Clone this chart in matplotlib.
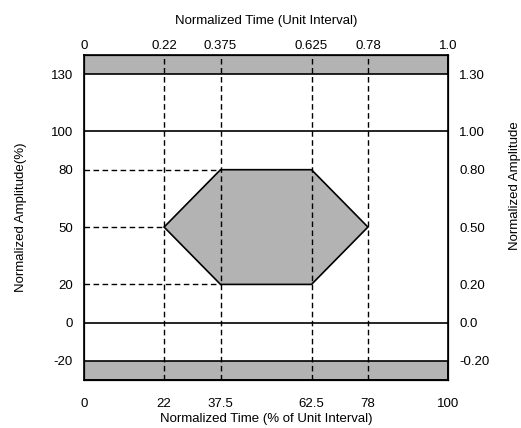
import matplotlib
matplotlib.use("Agg")
import matplotlib.pyplot as plt
from matplotlib.patches import Polygon, Rectangle

plt.rcParams['font.family'] = ['Liberation Sans', 'DejaVu Sans']

# Data
x_ticks_pct = [0, 22, 37.5, 62.5, 78, 100]
x_ticklabels_pct = ['0', '22', '37.5', '62.5', '78', '100']
x_ticklabels_ui = ['0', '0.22', '0.375', '0.625', '0.78', '1.0']
y_ticks = [-20, 0, 20, 50, 80, 100, 130]
y_ticklabels_pct = ['-20', '0', '20', '50', '80', '100', '130']
y_ticklabels_norm = ['-0.20', '0.0', '0.20', '0.50', '0.80', '1.00', '1.30']
eye_x = [22, 37.5, 62.5, 78, 62.5, 37.5]
eye_y = [50, 80, 80, 50, 20, 20]
band_top = (130, 140)
band_bottom = (-30, -20)
solid_levels = [0, 100]
vdash_x = [22, 37.5, 62.5, 78]
hdash = [(80, 37.5), (50, 22), (20, 37.5)]  # (level, x end)

gray = '#b3b3b3'
fig = plt.figure(figsize=(5.21, 4.28), dpi=100)
ax = fig.add_axes([84/521, 1-380/428, (448-84)/521, (380-55)/428])
ax.set_xlim(0, 100)
ax.set_ylim(-30, 140)

for lo, hi in (band_top, band_bottom):
    ax.add_patch(Rectangle((0, lo), 100, hi-lo, facecolor=gray, edgecolor='black', lw=1.2, zorder=1))
for lv in solid_levels:
    ax.axhline(lv, color='black', lw=1.2, zorder=2)
ax.add_patch(Polygon(list(zip(eye_x, eye_y)), closed=True, facecolor=gray, edgecolor='black', lw=1.2, zorder=3))
for xv in vdash_x:
    ax.axvline(xv, color='black', lw=1.0, ls=(0, (4, 2.5)), zorder=4)
for lv, xe in hdash:
    ax.plot([0, xe], [lv, lv], color='black', lw=1.0, ls=(0, (4, 2.5)), zorder=4)

for s in ax.spines.values():
    s.set_linewidth(1.2)

fs = 9.5
ax.set_xticks(x_ticks_pct)
ax.set_xticklabels(x_ticklabels_pct, fontsize=fs)
ax.set_yticks(y_ticks)
ax.set_yticklabels(y_ticklabels_pct, fontsize=fs)
ax.tick_params(axis='y', length=0, pad=8)
ax.tick_params(axis='x', length=0, pad=13)
ax.set_xlabel('Normalized Time (% of Unit Interval)', fontsize=fs, labelpad=2)
ax.set_ylabel('Normalized Amplitude(%)', fontsize=fs, labelpad=17)

axt = ax.twiny()
axt.set_xlim(0, 100)
axt.set_xticks(x_ticks_pct)
axt.set_xticklabels(x_ticklabels_ui, fontsize=fs)
axt.tick_params(length=0, pad=2)
axt.set_xlabel('Normalized Time (Unit Interval)', fontsize=fs, labelpad=12)

axr = ax.twinx()
axr.set_ylim(-30, 140)
axr.set_yticks(y_ticks)
axr.set_yticklabels(y_ticklabels_norm, fontsize=fs)
axr.tick_params(length=0, pad=8)

fig.text(515/521, 1-186/428, 'Normalized Amplitude', rotation=90, fontsize=fs, ha='center', va='center')

fig.savefig('out.png', dpi=100)
